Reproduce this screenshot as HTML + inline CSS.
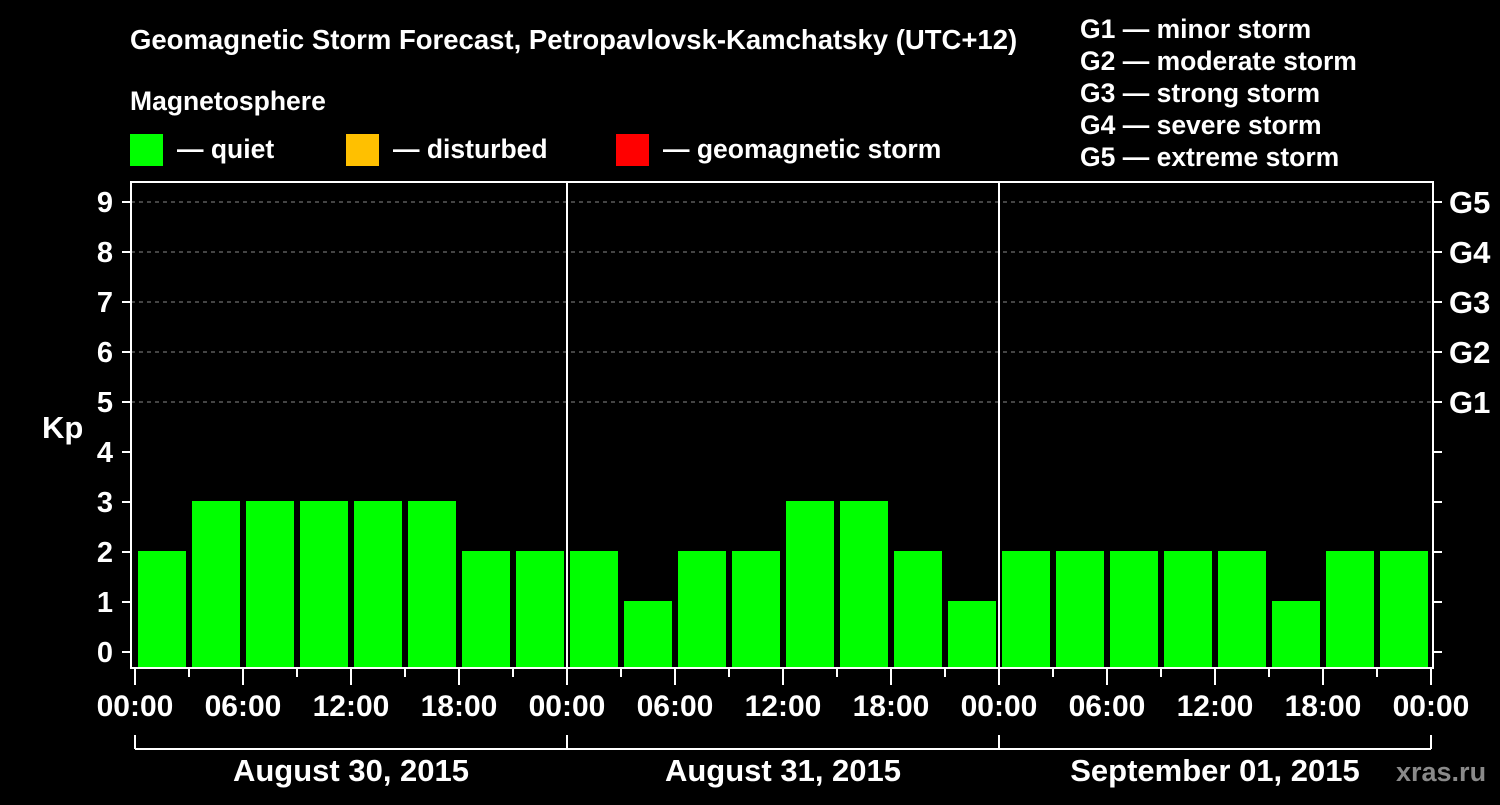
<!DOCTYPE html>
<html><head><meta charset="utf-8"><style>
body{margin:0;background:#000;width:1500px;height:800px;overflow:hidden}
svg text{font-family:"Liberation Sans",sans-serif;font-weight:bold;fill:#fff}
</style></head><body>
<svg id="c" width="1500" height="800" xmlns="http://www.w3.org/2000/svg">
<rect width="1500" height="800" fill="#000"/>
<text x="130" y="49" font-size="27.5">Geomagnetic Storm Forecast, Petropavlovsk-Kamchatsky (UTC+12)</text>
<text x="130" y="110" font-size="26.5">Magnetosphere</text>
<g><rect x="130" y="134" width="33" height="32" fill="#00ff00"/><text x="177" y="158" font-size="26.5">— quiet</text></g>
<g><rect x="346" y="134" width="33" height="32" fill="#ffc000"/><text x="393" y="158" font-size="26.5">— disturbed</text></g>
<g><rect x="616" y="134" width="33" height="32" fill="#ff0000"/><text x="663" y="158" font-size="26.5">— geomagnetic storm</text></g>
<g>
<text x="1080" y="38" font-size="26.5">G1 — minor storm</text>
<text x="1080" y="70" font-size="26.5">G2 — moderate storm</text>
<text x="1080" y="102" font-size="26.5">G3 — strong storm</text>
<text x="1080" y="134" font-size="26.5">G4 — severe storm</text>
<text x="1080" y="166" font-size="26.5">G5 — extreme storm</text>
</g>
<text x="42" y="438" font-size="31">Kp</text>
<text x="1396" y="781" font-size="27" style="fill:#8a8a8a">xras.ru</text>
<g id="g"></g>
</svg>
<script>
const days = ["August 30, 2015","August 31, 2015","September 01, 2015"];
const kpValues = [2,3,3,3,3,3,2,2, 2,1,2,2,3,3,2,1, 2,2,2,2,2,1,2,2];
const yTicks = [0,1,2,3,4,5,6,7,8,9];
const gLabels = ["G1","G2","G3","G4","G5"];
const hourLabels = ["00:00","06:00","12:00","18:00"];

const NS="http://www.w3.org/2000/svg";
const g=document.getElementById('g');
function el(t,a,txt){const e=document.createElementNS(NS,t);for(const k in a)e.setAttribute(k,a[k]);if(txt!==undefined)e.textContent=txt;g.appendChild(e);return e;}
const L=131,R=1433,T=182,B=668,X0=135,slot=54;
const y=v=>652-v*50;
const x=i=>X0+i*slot;
const color=v=>v>=5?"#ff0000":(v>=4?"#ffc000":"#00ff00");
for(let v=5;v<=9;v++){const e=el('line',{x1:L,x2:R,y1:y(v),y2:y(v),stroke:'#888','stroke-dasharray':'4,4','stroke-width':1});

}
kpValues.forEach((v,i)=>{const e=el('rect',{x:x(i)+3,y:y(v)-1,width:48,height:B-1-(y(v)-1),fill:color(v)});

});
const fr=el('rect',{x:L,y:T,width:R-L,height:B-T,fill:'none',stroke:'#fff','stroke-width':2});


for(let d=1;d<days.length;d++){const e=el('line',{x1:x(d*8),x2:x(d*8),y1:T,y2:B,stroke:'#fff','stroke-width':2});

}
yTicks.forEach(v=>{
 el('line',{x1:122,x2:L,y1:y(v),y2:y(v),stroke:'#fff','stroke-width':2});
 el('line',{x1:R,x2:1442,y1:y(v),y2:y(v),stroke:'#fff','stroke-width':2});
 const t=el('text',{x:105,y:y(v)+10,'font-size':29,'text-anchor':'middle'},String(v));
 
 
});
gLabels.forEach((s,i)=>{const t=el('text',{x:1449,y:y(5+i)+11,'font-size':31},s);

});
for(let i=0;i<=kpValues.length;i++){
 const major=i%2===0;
 el('line',{x1:x(i),x2:x(i),y1:B,y2:major?685:677,stroke:'#fff','stroke-width':2});
 if(major){const t=el('text',{x:x(i),y:716,'font-size':30,'text-anchor':'middle'},hourLabels[(i/2)%4]);
 
 }
}
el('line',{x1:x(0),x2:x(kpValues.length),y1:749,y2:749,stroke:'#fff','stroke-width':2});
for(let d=0;d<=days.length;d++)el('line',{x1:x(d*8),x2:x(d*8),y1:735,y2:749,stroke:'#fff','stroke-width':2});
days.forEach((s,d)=>{const t=el('text',{x:x(d*8+4),y:781,'font-size':31,'text-anchor':'middle'},s);

});
</script>
</body></html>
